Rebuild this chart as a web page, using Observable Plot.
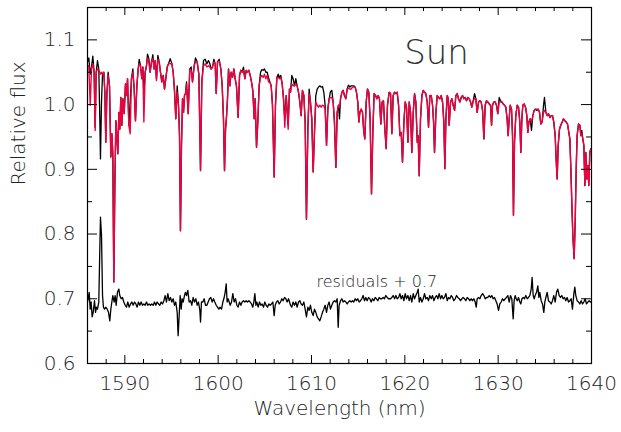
<!DOCTYPE html>
<html><head><meta charset="utf-8">
<script src="https://cdn.jsdelivr.net/npm/d3@7"></script>
<script src="https://cdn.jsdelivr.net/npm/@observablehq/plot@0.6"></script>
<style>body{margin:0;background:#fff}</style>
</head><body><div id="chart"></div>
<script>
const wavelength = [1586.00,1586.14,1586.29,1586.43,1586.57,1586.71,1586.82,1586.93,1587.07,1587.21,1587.32,1587.39,1587.50,1587.61,1587.75,1587.86,1587.96,1588.07,1588.21,1588.36,1588.50,1588.61,1588.71,1588.82,1588.93,1589.04,1589.14,1589.25,1589.36,1589.46,1589.57,1589.68,1589.79,1589.93,1590.07,1590.18,1590.29,1590.43,1590.57,1590.71,1590.86,1591.00,1591.14,1591.29,1591.43,1591.54,1591.68,1591.82,1591.93,1592.04,1592.18,1592.32,1592.43,1592.57,1592.71,1592.86,1593.00,1593.14,1593.25,1593.39,1593.54,1593.68,1593.82,1593.96,1594.11,1594.25,1594.39,1594.54,1594.68,1594.86,1595.04,1595.18,1595.32,1595.46,1595.61,1595.75,1595.86,1595.96,1596.07,1596.18,1596.29,1596.39,1596.50,1596.61,1596.79,1596.96,1597.11,1597.25,1597.43,1597.57,1597.75,1597.93,1598.11,1598.25,1598.43,1598.61,1598.79,1598.96,1599.11,1599.25,1599.39,1599.54,1599.68,1599.79,1599.93,1600.11,1600.29,1600.43,1600.57,1600.68,1600.79,1600.89,1601.00,1601.11,1601.25,1601.39,1601.54,1601.68,1601.82,1601.96,1602.14,1602.29,1602.43,1602.57,1602.71,1602.86,1603.00,1603.14,1603.29,1603.43,1603.57,1603.71,1603.86,1603.96,1604.11,1604.25,1604.39,1604.54,1604.68,1604.82,1604.96,1605.11,1605.25,1605.39,1605.54,1605.68,1605.82,1606.00,1606.14,1606.29,1606.43,1606.57,1606.71,1606.86,1607.00,1607.14,1607.29,1607.50,1607.64,1607.75,1607.89,1608.03,1608.18,1608.32,1608.46,1608.61,1608.75,1608.89,1609.03,1609.18,1609.32,1609.46,1609.61,1609.75,1609.89,1610.03,1610.18,1610.32,1610.46,1610.61,1610.75,1610.89,1611.03,1611.18,1611.32,1611.46,1611.61,1611.75,1611.89,1612.03,1612.18,1612.32,1612.46,1612.61,1612.75,1612.89,1613.00,1613.11,1613.25,1613.39,1613.53,1613.68,1613.82,1613.96,1614.11,1614.25,1614.39,1614.53,1614.68,1614.82,1614.96,1615.07,1615.18,1615.32,1615.46,1615.61,1615.71,1615.86,1616.00,1616.14,1616.28,1616.43,1616.57,1616.71,1616.86,1617.00,1617.14,1617.28,1617.43,1617.57,1617.71,1617.86,1618.00,1618.14,1618.32,1618.47,1618.61,1618.75,1618.90,1619.04,1619.18,1619.33,1619.47,1619.61,1619.75,1619.90,1620.04,1620.18,1620.33,1620.47,1620.61,1620.75,1620.90,1621.04,1621.18,1621.33,1621.43,1621.54,1621.68,1621.83,1621.97,1622.11,1622.25,1622.40,1622.54,1622.68,1622.83,1622.97,1623.08,1623.18,1623.33,1623.47,1623.61,1623.75,1623.90,1624.04,1624.18,1624.29,1624.40,1624.54,1624.65,1624.75,1624.90,1625.04,1625.18,1625.33,1625.47,1625.61,1625.75,1625.90,1626.04,1626.18,1626.33,1626.47,1626.61,1626.75,1626.90,1627.04,1627.18,1627.33,1627.47,1627.61,1627.75,1627.90,1628.04,1628.18,1628.33,1628.47,1628.61,1628.75,1628.89,1629.04,1629.18,1629.29,1629.39,1629.54,1629.68,1629.82,1629.96,1630.11,1630.25,1630.39,1630.54,1630.68,1630.82,1630.96,1631.07,1631.18,1631.29,1631.43,1631.54,1631.64,1631.75,1631.89,1632.04,1632.18,1632.32,1632.43,1632.54,1632.64,1632.79,1632.93,1633.07,1633.18,1633.29,1633.43,1633.57,1633.71,1633.86,1634.00,1634.14,1634.29,1634.43,1634.57,1634.71,1634.86,1634.96,1635.11,1635.25,1635.39,1635.54,1635.68,1635.82,1635.96,1636.11,1636.21,1636.32,1636.43,1636.57,1636.71,1636.86,1637.00,1637.14,1637.29,1637.43,1637.57,1637.68,1637.79,1637.89,1638.00,1638.14,1638.25,1638.36,1638.46,1638.61,1638.75,1638.86,1638.96,1639.07,1639.18,1639.29,1639.39,1639.50,1639.61,1639.71,1639.82,1639.93,1640.00];
const observed = [1.066,1.072,1.047,1.058,1.075,1.050,0.965,1.050,1.068,1.055,0.978,0.916,1.004,1.047,1.050,1.019,0.942,1.014,1.050,1.029,0.919,0.955,0.926,0.726,0.875,0.975,0.952,0.924,0.988,0.962,1.011,0.968,1.009,0.986,1.032,1.014,1.040,0.968,1.004,1.040,1.055,1.024,0.975,1.029,1.055,1.070,1.060,1.040,1.058,1.017,1.050,1.060,1.078,1.071,1.050,1.066,1.077,1.055,1.068,1.040,1.076,1.066,1.050,1.035,1.045,1.024,1.040,1.058,1.063,1.071,1.063,1.050,1.022,0.978,1.029,0.999,0.952,0.805,0.937,1.009,0.988,1.014,1.017,1.035,0.986,1.055,1.058,1.035,1.060,1.072,1.066,1.047,0.898,1.035,1.068,1.070,1.063,1.068,1.063,1.055,1.058,1.070,1.063,1.017,1.066,1.070,1.055,1.029,0.978,0.898,0.962,0.980,1.009,1.055,1.029,1.050,1.042,1.055,1.040,1.029,0.980,1.045,1.053,1.050,1.058,1.040,1.053,1.050,1.053,1.045,1.035,1.022,0.978,1.009,0.934,0.973,1.029,1.050,1.054,1.053,1.055,1.050,1.050,1.042,1.035,1.029,0.999,0.888,0.999,1.042,1.047,1.042,1.045,1.032,1.009,0.978,1.014,0.968,1.024,1.019,1.045,1.040,1.029,1.040,1.029,1.019,1.004,0.983,1.022,1.014,0.973,0.823,0.962,1.024,1.004,0.978,0.896,0.957,1.014,1.024,1.027,1.029,1.027,1.028,1.019,0.999,0.937,0.993,1.009,1.020,1.022,1.004,0.973,0.903,0.988,0.999,0.978,1.009,1.019,1.022,1.014,1.009,1.024,1.030,1.027,1.029,1.029,1.029,1.027,1.019,1.004,0.973,0.988,0.993,0.988,0.957,0.947,1.004,1.024,1.019,0.978,0.862,0.957,1.017,1.014,1.009,1.014,1.009,0.970,1.004,1.006,0.962,0.932,0.999,1.019,1.017,0.955,1.014,1.019,1.017,1.019,0.999,0.952,0.957,0.911,0.973,1.004,0.996,0.942,1.004,0.988,0.926,0.988,1.017,1.004,0.942,0.952,0.890,0.978,1.014,1.022,1.019,1.017,1.004,0.965,1.014,1.014,0.999,0.973,0.926,0.988,1.014,1.011,1.009,1.014,1.004,0.973,0.901,0.978,1.014,1.009,0.968,1.004,1.009,0.999,0.991,1.014,1.017,1.009,1.004,1.011,1.014,1.009,1.011,1.006,1.011,1.009,1.004,0.996,1.006,1.017,1.009,0.988,1.004,1.006,1.004,0.991,0.947,0.999,1.006,1.004,1.001,0.999,0.968,0.999,1.004,1.004,0.999,0.986,1.011,1.006,1.004,1.001,0.999,0.996,0.978,0.952,0.978,0.999,0.993,0.952,0.829,0.942,0.983,0.999,0.996,0.973,0.926,0.978,0.999,1.001,0.996,0.983,0.957,0.973,0.978,0.960,0.983,0.991,0.993,0.991,0.993,0.988,0.970,0.973,0.999,1.011,0.988,0.983,0.986,0.980,0.983,0.983,0.973,0.952,0.916,0.885,0.937,0.962,0.968,0.973,0.978,0.975,0.973,0.970,0.957,0.947,0.901,0.849,0.798,0.762,0.818,0.901,0.952,0.970,0.968,0.952,0.960,0.947,0.937,0.875,0.926,0.885,0.906,0.875,0.926,0.932,0.930];
const model = [1.060,1.060,0.999,1.055,1.063,1.050,0.960,1.050,1.055,1.053,1.050,1.047,1.050,1.047,1.050,1.019,0.942,1.014,1.045,1.029,0.919,0.955,0.926,0.726,0.875,0.975,0.952,0.924,0.988,0.962,1.011,0.968,1.009,0.986,1.032,1.014,1.040,0.968,0.955,1.040,1.050,1.024,0.975,1.029,1.055,1.063,1.060,1.040,1.058,0.973,1.050,1.060,1.072,1.066,1.050,1.066,1.071,1.055,1.068,1.037,1.070,1.066,1.050,1.035,1.045,1.024,1.040,1.058,1.063,1.063,1.063,1.050,1.022,0.978,1.019,0.999,0.952,0.805,0.937,1.009,0.988,1.014,1.017,1.032,0.986,1.055,1.053,1.035,1.060,1.066,1.066,1.047,0.898,1.035,1.060,1.063,1.058,1.060,1.058,1.055,1.058,1.066,1.063,1.017,1.066,1.067,1.055,1.029,0.978,0.898,0.962,0.980,1.009,1.055,1.029,1.050,1.042,1.055,1.040,1.029,0.980,1.045,1.053,1.050,1.053,1.040,1.053,1.050,1.053,1.045,1.035,1.022,0.978,1.009,0.934,0.973,1.029,1.042,1.045,1.042,1.047,1.040,1.045,1.035,1.035,1.029,0.999,0.888,0.999,1.042,1.042,1.040,1.042,1.032,1.009,0.965,1.014,0.962,1.024,1.019,1.032,1.029,1.029,1.032,1.029,1.019,1.004,0.983,1.022,1.014,0.973,0.823,0.962,1.017,1.004,0.978,0.896,0.957,1.004,0.999,0.996,0.999,0.996,0.999,0.998,0.993,0.937,0.993,1.009,1.011,1.011,1.004,0.973,0.903,0.988,0.999,0.996,1.009,1.019,1.022,1.014,1.009,1.024,1.025,1.024,1.024,1.027,1.027,1.027,1.019,1.004,0.973,0.988,0.993,0.988,0.957,0.947,1.004,1.024,1.019,0.978,0.862,0.957,1.017,1.014,1.009,1.014,1.009,0.970,1.004,1.006,0.962,0.932,0.999,1.019,1.017,0.955,1.014,1.019,1.017,1.019,0.999,0.952,0.957,0.911,0.973,1.004,0.996,0.942,1.004,0.988,0.926,0.988,1.017,1.004,0.942,0.952,0.890,0.978,1.014,1.022,1.019,1.017,1.004,0.965,1.014,1.014,0.999,0.973,0.926,0.988,1.014,1.011,1.009,1.014,1.004,0.973,0.901,0.978,1.014,1.009,0.968,1.004,1.009,0.999,0.991,1.014,1.017,1.009,1.004,1.011,1.014,1.009,1.011,1.006,1.011,1.009,1.004,0.996,1.006,1.009,1.009,0.988,1.004,1.006,1.004,0.991,0.947,0.999,1.006,1.004,1.001,0.999,0.968,0.999,1.004,1.004,0.999,0.986,1.004,1.004,1.004,1.001,0.999,0.996,0.978,0.952,0.978,0.999,0.993,0.952,0.829,0.942,0.983,0.999,0.996,0.973,0.926,0.978,0.999,1.001,0.996,0.983,0.957,0.973,0.978,0.973,0.983,0.991,0.993,0.993,0.993,0.988,0.970,0.973,0.988,0.991,0.988,0.983,0.986,0.980,0.983,0.983,0.973,0.952,0.916,0.885,0.937,0.962,0.968,0.973,0.978,0.975,0.973,0.970,0.957,0.947,0.901,0.849,0.798,0.762,0.818,0.901,0.952,0.970,0.968,0.952,0.955,0.947,0.937,0.875,0.926,0.885,0.906,0.875,0.926,0.932,0.930];
const residWavelength = [1586.00,1586.07,1586.18,1586.29,1586.39,1586.50,1586.61,1586.75,1586.86,1586.96,1587.07,1587.21,1587.32,1587.39,1587.50,1587.61,1587.71,1587.82,1587.96,1588.11,1588.25,1588.39,1588.50,1588.61,1588.71,1588.86,1588.96,1589.07,1589.21,1589.36,1589.46,1589.61,1589.75,1589.89,1590.04,1590.18,1590.32,1590.46,1590.61,1590.75,1590.89,1591.04,1591.18,1591.32,1591.46,1591.61,1591.75,1591.89,1592.04,1592.18,1592.32,1592.46,1592.61,1592.75,1592.89,1593.04,1593.18,1593.32,1593.46,1593.61,1593.75,1593.89,1594.04,1594.18,1594.32,1594.46,1594.61,1594.75,1594.89,1595.04,1595.18,1595.32,1595.46,1595.61,1595.71,1595.82,1595.93,1596.04,1596.14,1596.25,1596.39,1596.50,1596.61,1596.75,1596.89,1597.04,1597.18,1597.32,1597.46,1597.61,1597.75,1597.89,1598.04,1598.11,1598.21,1598.36,1598.50,1598.64,1598.79,1598.93,1599.07,1599.21,1599.36,1599.50,1599.64,1599.79,1599.93,1600.07,1600.21,1600.36,1600.50,1600.61,1600.75,1600.86,1600.96,1601.07,1601.18,1601.29,1601.43,1601.57,1601.71,1601.86,1602.00,1602.14,1602.29,1602.43,1602.57,1602.71,1602.86,1603.00,1603.14,1603.29,1603.43,1603.57,1603.71,1603.82,1603.93,1604.04,1604.14,1604.29,1604.43,1604.57,1604.71,1604.86,1605.00,1605.14,1605.29,1605.43,1605.57,1605.71,1605.86,1606.00,1606.11,1606.25,1606.39,1606.54,1606.68,1606.82,1606.96,1607.11,1607.25,1607.39,1607.54,1607.75,1607.89,1608.03,1608.18,1608.32,1608.46,1608.61,1608.75,1608.89,1609.03,1609.18,1609.32,1609.46,1609.61,1609.75,1609.89,1610.03,1610.18,1610.32,1610.46,1610.61,1610.75,1610.89,1611.03,1611.18,1611.32,1611.46,1611.61,1611.75,1611.89,1612.03,1612.18,1612.32,1612.46,1612.61,1612.75,1612.86,1612.96,1613.11,1613.25,1613.39,1613.53,1613.68,1613.82,1613.96,1614.11,1614.25,1614.39,1614.53,1614.68,1614.82,1614.96,1615.11,1615.25,1615.39,1615.53,1615.68,1615.82,1615.96,1616.11,1616.25,1616.39,1616.53,1616.68,1616.82,1616.96,1617.11,1617.25,1617.39,1617.53,1617.68,1617.82,1617.96,1618.11,1618.25,1618.47,1618.61,1618.75,1618.90,1619.04,1619.18,1619.33,1619.47,1619.61,1619.75,1619.90,1620.04,1620.18,1620.33,1620.47,1620.61,1620.75,1620.90,1621.04,1621.18,1621.33,1621.43,1621.54,1621.68,1621.83,1621.97,1622.11,1622.25,1622.40,1622.54,1622.68,1622.83,1622.97,1623.11,1623.25,1623.40,1623.54,1623.68,1623.83,1623.97,1624.11,1624.25,1624.40,1624.54,1624.68,1624.83,1624.97,1625.11,1625.25,1625.40,1625.54,1625.68,1625.83,1625.97,1626.11,1626.25,1626.40,1626.54,1626.68,1626.83,1626.97,1627.11,1627.25,1627.40,1627.54,1627.65,1627.75,1627.90,1628.04,1628.18,1628.33,1628.47,1628.61,1628.75,1628.89,1629.04,1629.18,1629.32,1629.46,1629.61,1629.75,1629.89,1630.04,1630.18,1630.32,1630.46,1630.61,1630.75,1630.89,1631.04,1631.18,1631.32,1631.46,1631.61,1631.71,1631.82,1631.93,1632.04,1632.18,1632.32,1632.43,1632.54,1632.68,1632.82,1632.96,1633.11,1633.25,1633.39,1633.54,1633.64,1633.75,1633.86,1633.96,1634.11,1634.25,1634.36,1634.46,1634.61,1634.75,1634.89,1635.00,1635.11,1635.25,1635.39,1635.54,1635.68,1635.82,1635.96,1636.11,1636.25,1636.39,1636.54,1636.68,1636.82,1636.96,1637.11,1637.25,1637.39,1637.54,1637.68,1637.82,1637.96,1638.11,1638.21,1638.32,1638.46,1638.61,1638.75,1638.89,1639.04,1639.18,1639.32,1639.46,1639.61,1639.75,1639.89,1640.00];
const residuals = [0.695,0.700,0.710,0.684,0.695,0.672,0.679,0.697,0.679,0.687,0.684,0.695,0.777,0.826,0.798,0.705,0.687,0.684,0.687,0.684,0.679,0.666,0.684,0.695,0.705,0.695,0.705,0.690,0.710,0.715,0.705,0.700,0.702,0.695,0.690,0.687,0.695,0.687,0.692,0.695,0.690,0.695,0.692,0.687,0.695,0.690,0.695,0.690,0.692,0.690,0.695,0.690,0.692,0.690,0.692,0.690,0.695,0.690,0.695,0.692,0.690,0.695,0.692,0.697,0.705,0.695,0.708,0.697,0.702,0.695,0.700,0.690,0.695,0.679,0.643,0.674,0.705,0.684,0.700,0.695,0.705,0.710,0.705,0.713,0.695,0.697,0.690,0.702,0.695,0.700,0.690,0.695,0.682,0.664,0.695,0.695,0.700,0.690,0.690,0.695,0.700,0.702,0.695,0.700,0.695,0.690,0.687,0.684,0.687,0.684,0.695,0.700,0.710,0.723,0.695,0.700,0.695,0.690,0.695,0.708,0.695,0.700,0.690,0.687,0.695,0.690,0.695,0.697,0.695,0.697,0.695,0.697,0.695,0.692,0.687,0.695,0.708,0.690,0.695,0.687,0.695,0.690,0.692,0.687,0.695,0.690,0.687,0.692,0.690,0.692,0.695,0.674,0.690,0.695,0.697,0.692,0.695,0.700,0.697,0.702,0.700,0.695,0.700,0.690,0.687,0.695,0.690,0.695,0.687,0.695,0.697,0.692,0.690,0.695,0.684,0.672,0.687,0.682,0.690,0.679,0.674,0.684,0.679,0.672,0.669,0.666,0.672,0.679,0.684,0.690,0.679,0.690,0.695,0.684,0.690,0.695,0.697,0.695,0.700,0.656,0.690,0.697,0.700,0.695,0.697,0.695,0.692,0.695,0.697,0.695,0.697,0.695,0.700,0.697,0.700,0.695,0.697,0.700,0.705,0.697,0.702,0.697,0.702,0.700,0.695,0.700,0.697,0.702,0.700,0.697,0.702,0.700,0.700,0.702,0.700,0.705,0.702,0.700,0.700,0.702,0.705,0.700,0.705,0.700,0.702,0.708,0.700,0.705,0.697,0.708,0.700,0.705,0.697,0.705,0.695,0.708,0.700,0.705,0.710,0.715,0.695,0.702,0.695,0.700,0.708,0.700,0.702,0.697,0.705,0.700,0.705,0.697,0.702,0.705,0.700,0.708,0.700,0.705,0.700,0.702,0.708,0.697,0.702,0.700,0.705,0.702,0.697,0.700,0.705,0.702,0.700,0.697,0.700,0.702,0.700,0.697,0.702,0.700,0.697,0.700,0.697,0.700,0.695,0.687,0.700,0.702,0.700,0.705,0.708,0.705,0.700,0.702,0.702,0.705,0.702,0.705,0.700,0.702,0.697,0.692,0.682,0.692,0.695,0.700,0.697,0.700,0.702,0.705,0.695,0.705,0.700,0.669,0.697,0.705,0.700,0.697,0.702,0.695,0.692,0.700,0.702,0.700,0.705,0.700,0.702,0.705,0.715,0.733,0.705,0.700,0.705,0.710,0.720,0.702,0.710,0.697,0.692,0.679,0.695,0.702,0.710,0.697,0.695,0.692,0.697,0.705,0.695,0.710,0.715,0.705,0.702,0.705,0.700,0.702,0.697,0.702,0.695,0.697,0.700,0.684,0.708,0.718,0.705,0.697,0.695,0.692,0.697,0.692,0.695,0.700,0.692,0.695,0.697,0.695,0.695];

const xMajor = [1590, 1600, 1610, 1620, 1630, 1640];
const xMinor = [1588, 1592, 1594, 1596, 1598, 1602, 1604, 1606, 1608, 1612, 1614, 1616, 1618, 1622, 1624, 1626, 1628, 1632, 1634, 1636, 1638];
const yMajor = [0.6, 0.7, 0.8, 0.9, 1.0, 1.1];
const yMinor = [0.65, 0.75, 0.85, 0.95, 1.05];
const title = "Sun";
const residLabel = "residuals + 0.7";
const xLabel = "Wavelength (nm)";
const yLabel = "Relative flux";

const spectrum = wavelength.map((w, i) => ({w, obs: observed[i], mod: model[i]}));
const resid = residWavelength.map((w, i) => ({w, r: residuals[i]}));

const FONT = "'DejaVu Sans', sans-serif";
const RED = "#f00040";
const TEXT = "#222";

const chart = Plot.plot({
  width: 621,
  height: 432,
  marginLeft: 87,
  marginRight: 30,
  marginTop: 7,
  marginBottom: 69,
  style: {fontFamily: FONT, fontWeight: 200, background: "#fff", color: TEXT},
  x: {domain: [1586, 1640]},
  y: {domain: [0.6, 1.15]},
  marks: [
    Plot.line(spectrum, {x: "w", y: "obs", stroke: "#000", strokeWidth: 1.3, clip: true}),
    Plot.line(spectrum, {x: "w", y: "mod", stroke: RED, strokeWidth: 1.4, clip: true}),
    Plot.line(resid, {x: "w", y: "r", stroke: "#000", strokeWidth: 1.3, clip: true}),
    Plot.tickX(xMajor, {x: d => d, insetTop: 348, stroke: "#000", strokeWidth: 1}),
    Plot.tickX(xMajor, {x: d => d, insetBottom: 348, stroke: "#000", strokeWidth: 1}),
    Plot.tickX(xMinor, {x: d => d, insetTop: 352, stroke: "#000", strokeWidth: 1}),
    Plot.tickX(xMinor, {x: d => d, insetBottom: 352, stroke: "#000", strokeWidth: 1}),
    Plot.tickY(yMajor, {y: d => d, insetRight: 494, stroke: "#000", strokeWidth: 1}),
    Plot.tickY(yMajor, {y: d => d, insetLeft: 494, stroke: "#000", strokeWidth: 1}),
    Plot.tickY(yMinor, {y: d => d, insetRight: 499, stroke: "#000", strokeWidth: 1}),
    Plot.tickY(yMinor, {y: d => d, insetLeft: 499, stroke: "#000", strokeWidth: 1}),
    Plot.frame({stroke: "#000", strokeWidth: 1.2}),
    Plot.axisX({ticks: xMajor, tickSize: 0, tickPadding: 12, fontSize: 20, tickFormat: d => String(d), label: null}),
    Plot.axisY({ticks: yMajor, tickSize: 0, tickPadding: 12, fontSize: 20, tickFormat: d => d.toFixed(1), label: null}),
    Plot.text([xLabel], {frameAnchor: "bottom", text: d => d, dy: 51, fontSize: 20}),
    Plot.text([yLabel], {frameAnchor: "left", text: d => d, dx: -69, rotate: -90, fontSize: 20}),
    Plot.text([title], {x: [1623.4], y: [1.079], text: d => d, fontSize: 34, fill: "#333", letterSpacing: 2}),
    Plot.text([residLabel], {x: [1617.0], y: [0.726], text: d => d, fontSize: 16, letterSpacing: 0.5})
  ]
});
document.getElementById("chart").append(chart);
</script>
</body></html>
